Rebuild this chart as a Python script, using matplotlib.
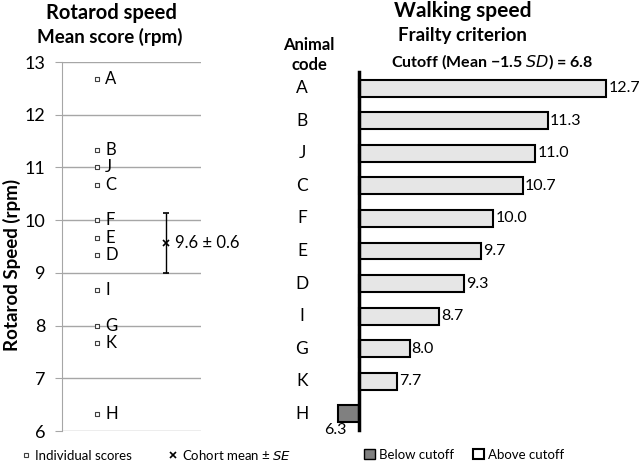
import numpy as np
import matplotlib.pyplot as plt
from matplotlib.lines import Line2D
from matplotlib.patches import Patch
from matplotlib.transforms import blended_transform_factory

plt.rcParams['font.family'] = ['Lato', 'DejaVu Sans']

# data
animals = ['A', 'B', 'J', 'C', 'F', 'E', 'D', 'I', 'G', 'K', 'H']
rotarod = [12.67, 11.33, 11.0, 10.67, 10.0, 9.67, 9.33, 8.67, 8.0, 7.67, 6.33]
walking = [12.7, 11.3, 11.0, 10.7, 10.0, 9.7, 9.3, 8.7, 8.0, 7.7, 6.3]
cohort_mean = 9.57
cohort_se = 0.57
cutoff = 6.8

fig = plt.figure(figsize=(6.4, 4.61), dpi=100)

# ---- left panel: rotarod
ax1 = fig.add_axes([62/640, 30/461, 139/640, 369/461])
ax1.set_ylim(6, 13)
ax1.set_xlim(0, 1)
ax1.set_yticks(range(6, 14))
ax1.set_xticks([])
ax1.grid(axis='y', color='#a6a6a6', lw=1)
ax1.set_axisbelow(True)
for s in ['top', 'right', 'bottom']:
    ax1.spines[s].set_visible(False)
ax1.spines['left'].set_color('#a6a6a6')
ax1.tick_params(axis='y', length=5, color='#a6a6a6', labelsize=13, pad=7)

ax1.scatter([0.25] * len(rotarod), rotarod, marker='s', s=9, facecolor='white',
            edgecolor='#404040', linewidths=0.8, zorder=3)
for a, v in zip(animals, rotarod):
    ax1.text(0.31, v, a, ha='left', va='center', fontsize=12)
ax1.errorbar([0.75], [cohort_mean], yerr=[cohort_se], fmt='x', color='black',
             ms=5, mew=1.2, capsize=2.5, elinewidth=1, zorder=3)
ax1.text(0.81, cohort_mean, '9.6 \u00b1 0.6', ha='left', va='center', fontsize=12)
ax1.set_ylabel('Rotarod Speed (rpm)', fontsize=13.5, fontweight='bold')
ax1.yaxis.set_label_coords(-0.295, 0.45)

fig.text(111/640, 1 - 13/461, 'Rotarod speed', ha='center', va='center',
         fontsize=14.5, fontweight='bold')
fig.text(110/640, 1 - 37/461, 'Mean score (rpm)', ha='center', va='center',
         fontsize=13.5, fontweight='bold')

leg1 = [Line2D([], [], marker='s', ls='none', ms=3.5, mfc='white', mec='#404040', mew=0.8),
        Line2D([], [], marker='x', ls='none', ms=5, color='black', mew=1.2)]
fig.legend(leg1, ['Individual scores', 'Cohort mean \u00b1 $\\it{SE}$'],
           loc='center left', bbox_to_anchor=(22/640, 1 - 455/461), ncol=2,
           frameon=False, fontsize=9.5, handlelength=0.6, handletextpad=0.4,
           columnspacing=2.8, borderaxespad=0, borderpad=0)

# ---- right panel: walking speed
ax2 = fig.add_axes([330/640, 31/461, 289/640, 358/461])
ypos = np.arange(len(animals))
widths = [w - cutoff for w in walking]
colors = ['#808080' if w < cutoff else '#e6e6e6' for w in walking]
ax2.barh(ypos, widths, left=cutoff, height=0.52, color=colors,
         edgecolor='black', linewidth=1.5, zorder=2)
ax2.set_xlim(6.1, 13.0)
ax2.set_ylim(10.5, -0.5)
ax2.set_xticks([])
ax2.set_yticks([])
for s in ['top', 'right', 'bottom']:
    ax2.spines[s].set_visible(False)
ax2.spines['left'].set_position(('data', cutoff))
ax2.spines['left'].set_linewidth(2.5)
ax2.spines['left'].set_zorder(3)

tr = blended_transform_factory(ax2.transAxes, ax2.transData)
for i, (a, w) in enumerate(zip(animals, walking)):
    ax2.text(-0.097, i, a, transform=tr, ha='center', va='center', fontsize=12.5)
    if w >= cutoff:
        ax2.text(w + 0.05, i, f'{w:.1f}', ha='left', va='center', fontsize=11.5)
    else:
        ax2.text(w - 0.08, i + 0.3, f'{w:.1f}', ha='center', va='top', fontsize=11.5)

fig.text(463/640, 1 - 11/461, 'Walking speed', ha='center', va='center',
         fontsize=15, fontweight='bold')
fig.text(462/640, 1 - 35/461, 'Frailty criterion', ha='center', va='center',
         fontsize=13.5, fontweight='bold')
fig.text(492/640, 1 - 62/461, 'Cutoff (Mean \u22121.5 $\\bf{\\it{SD}}$) = 6.8',
         ha='center', va='center', fontsize=11.5, fontweight='bold')
fig.text(309/640, 1 - 55/461, 'Animal\ncode', ha='center', va='center',
         fontsize=12, fontweight='bold', linespacing=1.25)

leg2 = [Patch(facecolor='#808080', edgecolor='black', lw=1),
        Patch(facecolor='white', edgecolor='black', lw=1.5)]
fig.legend(leg2, ['Below cutoff', 'Above cutoff'],
           loc='center left', bbox_to_anchor=(364/640, 1 - 455/461), ncol=2,
           frameon=False, fontsize=9.5, handlelength=0.8, handleheight=0.8,
           handletextpad=0.3, columnspacing=1.5, borderaxespad=0, borderpad=0)

fig.savefig('out.png', dpi=100)
